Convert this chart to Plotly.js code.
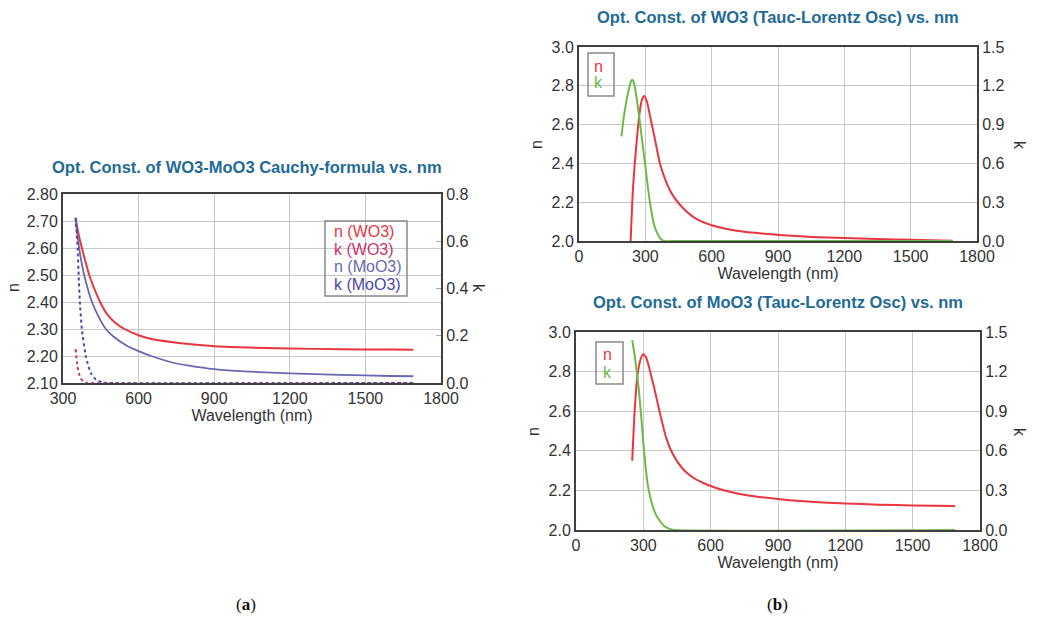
<!DOCTYPE html>
<html>
<head>
<meta charset="utf-8">
<script src="https://cdn.plot.ly/plotly-3.0.1.min.js"></script>
<style>html,body{margin:0;padding:0;background:#fff;}#chart{width:1037px;height:619px;}</style>
</head>
<body>
<div id="chart"></div>
<script>
// ---------- (a) Cauchy formula ----------
const nWO3cWl    = [350,362,375,389,404,424,447,475,505,544,600,650,736,800,900,1000,1200,1400,1600,1690];
const nWO3c      = [2.710,2.650,2.600,2.550,2.500,2.450,2.400,2.355,2.325,2.300,2.277,2.263,2.251,2.244,2.236,2.232,2.228,2.225,2.224,2.223];
const nMoO3cWl   = [350,357,364,373,384,398,415,440,470,500,550,600,650,736,800,900,1000,1200,1400,1600,1690];
const nMoO3c     = [2.705,2.650,2.600,2.550,2.500,2.450,2.400,2.348,2.300,2.272,2.240,2.218,2.200,2.175,2.164,2.151,2.144,2.136,2.130,2.126,2.125];
const kWO3cWl    = [350,355,360,365,370,380,390,400,1690];
const kWO3c      = [0.143,0.090,0.055,0.034,0.020,0.007,0.002,0,0];
const kMoO3cWl   = [350,358,362,367,375,391,411,430,457,480,1690];
const kMoO3c     = [0.700,0.571,0.455,0.342,0.226,0.111,0.041,0.015,0.002,0,0];
const seriesNamesA = ["n (WO3)","k (WO3)","n (MoO3)","k (MoO3)"];

// ---------- (b) top: WO3 Tauc-Lorentz ----------
const tlWO3nWl = [233.5,244,259,274,285,296,308,322,344,366,396,425,470,529,600,721,883,1050,1200,1350,1500,1690];
const tlWO3n   = [2.000,2.267,2.489,2.660,2.730,2.748,2.715,2.640,2.521,2.400,2.300,2.234,2.170,2.115,2.081,2.051,2.033,2.021,2.015,2.010,2.006,2.001];
const tlWO3kWl = [192,203,214,225,233,239.5,246,252,266,281.5,300,319,341,360,371,385,450,1690];
const tlWO3k   = [0.809,0.963,1.079,1.170,1.225,1.246,1.235,1.195,1.040,0.835,0.578,0.321,0.116,0.040,0.013,0,0,0];

// ---------- (b) bottom: MoO3 Tauc-Lorentz ----------
const tlMoO3nWl = [250.5,262,274,287,300,312,325,337,349,372,401,431,476,500,536,570,600,650,729,800,900,1000,1100,1200,1350,1500,1689];
const tlMoO3n   = [2.350,2.613,2.782,2.860,2.888,2.872,2.825,2.770,2.715,2.600,2.469,2.384,2.308,2.283,2.255,2.236,2.222,2.203,2.182,2.169,2.156,2.146,2.139,2.134,2.128,2.124,2.121];
const tlMoO3kWl = [250.5,260,270,280,290,300,310,320,335,350,367,385,400,420,440,1689];
const tlMoO3k   = [1.439,1.340,1.210,1.060,0.870,0.660,0.480,0.340,0.220,0.140,0.085,0.045,0.022,0.007,0,0];
const seriesNamesB = ["n","k"];

const titles = [
  "Opt. Const. of WO3-MoO3 Cauchy-formula vs. nm",
  "Opt. Const. of WO3 (Tauc-Lorentz Osc) vs. nm",
  "Opt. Const. of MoO3 (Tauc-Lorentz Osc) vs. nm"
];

const W = 1037, H = 619;
const px = x => x / W, py = y => 1 - y / H;

const cRed = '#e8363f', cPink = '#cc3170', cPurple = '#6868b2', cBlue = '#4a48a6', cGreen = '#6cba48';
const sp = s => ({shape:'spline', smoothing:s});

const traces = [
  {x: nWO3cWl, y: nWO3c, name: seriesNamesA[0], xaxis:'x', yaxis:'y', mode:'lines', line:Object.assign({color:cRed, width:2}, sp(0.6))},
  {x: kWO3cWl, y: kWO3c, name: seriesNamesA[1], xaxis:'x', yaxis:'y2', mode:'lines', line:Object.assign({color:cPink, width:2, dash:'dot'}, sp(0.5))},
  {x: nMoO3cWl, y: nMoO3c, name: seriesNamesA[2], xaxis:'x', yaxis:'y', mode:'lines', line:Object.assign({color:cPurple, width:1.8}, sp(0.6))},
  {x: kMoO3cWl, y: kMoO3c, name: seriesNamesA[3], xaxis:'x', yaxis:'y2', mode:'lines', line:Object.assign({color:cBlue, width:2, dash:'dot'}, sp(0.5))},
  {x: tlWO3kWl, y: tlWO3k, name: 'k', xaxis:'x2', yaxis:'y4', mode:'lines', line:Object.assign({color:cGreen, width:2}, sp(0.6))},
  {x: tlWO3nWl, y: tlWO3n, name: 'n', xaxis:'x2', yaxis:'y3', mode:'lines', line:Object.assign({color:cRed, width:2}, sp(0.6))},
  {x: tlMoO3kWl, y: tlMoO3k, name: 'k', xaxis:'x3', yaxis:'y6', mode:'lines', line:Object.assign({color:cGreen, width:2}, sp(0.6))},
  {x: tlMoO3nWl, y: tlMoO3n, name: 'n', xaxis:'x3', yaxis:'y5', mode:'lines', line:Object.assign({color:cRed, width:2}, sp(0.6))}
];

const tickFont = {family:'Liberation Sans, Arial, sans-serif', size:16, color:'#333'};
const base = {showline:true, linecolor:'#404040', linewidth:2, mirror:true, gridcolor:'#c8c8c8', gridwidth:1,
              zeroline:false, ticks:'', tickfont:tickFont, fixedrange:true};
const xTitle = {text:'Wavelength (nm)', font:{family:'Liberation Sans, Arial, sans-serif', size:16, color:'#333'}, standoff:2};

const layout = {
  width:W, height:H, margin:{l:0,r:0,t:0,b:0}, paper_bgcolor:'#fff', plot_bgcolor:'#fff', showlegend:false,
  font:{family:'Liberation Sans, Arial, sans-serif'},
  xaxis: Object.assign({}, base, {domain:[px(63),px(441)], range:[300,1800], dtick:300, tick0:0, anchor:'y', title:xTitle}),
  yaxis: Object.assign({}, base, {domain:[py(383),py(194)], range:[2.1,2.8], dtick:0.1, tickformat:'.2f', anchor:'x'}),
  yaxis2: Object.assign({}, base, {overlaying:'y', side:'right', anchor:'x', range:[0,0.8], dtick:0.2, tickformat:'.1f',
              showgrid:false, ticks:'inside', ticklen:5, tickcolor:'#aaa', tickwidth:1}),
  xaxis2: Object.assign({}, base, {domain:[px(579),px(977)], range:[0,1800], dtick:300, anchor:'y3', title:xTitle}),
  yaxis3: Object.assign({}, base, {domain:[py(241),py(47)], range:[2,3], dtick:0.2, tickformat:'.1f', anchor:'x2'}),
  yaxis4: Object.assign({}, base, {overlaying:'y3', side:'right', anchor:'x2', range:[0,1.5], dtick:0.3, tickformat:'.1f', showgrid:false}),
  xaxis3: Object.assign({}, base, {domain:[px(576),px(980)], range:[0,1800], dtick:300, anchor:'y5', title:xTitle}),
  yaxis5: Object.assign({}, base, {domain:[py(530),py(332)], range:[2,3], dtick:0.2, tickformat:'.1f', anchor:'x3'}),
  yaxis6: Object.assign({}, base, {overlaying:'y5', side:'right', anchor:'x3', range:[0,1.5], dtick:0.3, tickformat:'.1f', showgrid:false}),
  shapes: [
    {type:'rect', xref:'paper', yref:'paper', x0:px(325), x1:px(407), y0:py(296), y1:py(221), line:{color:'#8a8a8a', width:1.5}, fillcolor:'rgba(255,255,255,0)'},
    {type:'rect', xref:'paper', yref:'paper', x0:px(588), x1:px(614), y0:py(96), y1:py(53), line:{color:'#8a8a8a', width:1.5}, fillcolor:'rgba(255,255,255,0)'},
    {type:'rect', xref:'paper', yref:'paper', x0:px(596), x1:px(623), y0:py(384), y1:py(342), line:{color:'#8a8a8a', width:1.5}, fillcolor:'rgba(255,255,255,0)'}
  ],
  annotations: []
};

const ann = layout.annotations;
const titleFont = {family:'Liberation Sans, Arial, sans-serif', size:16.5, color:'#1f6b96'};
[[titles[0],247,167],[titles[1],778,17],[titles[2],778,302]].forEach(([t,x,y]) =>
  ann.push({text:'<b>'+t+'</b>', xref:'paper', yref:'paper', x:px(x), y:py(y), showarrow:false, font:titleFont, xanchor:'center', yanchor:'middle'}));

const axLabFont = {family:'Liberation Sans, Arial, sans-serif', size:16, color:'#333'};
[['n',13,288,-90],['k',479,288,90],['n',537,145,-90],['k',1019,145,90],['n',533,432,-90],['k',1020,432,90]].forEach(([t,x,y,a]) =>
  ann.push({text:t, xref:'paper', yref:'paper', x:px(x), y:py(y), showarrow:false, font:axLabFont, textangle:a, xanchor:'center', yanchor:'middle'}));

// legends (text only, coloured)
const legFont = c => ({family:'Liberation Sans, Arial, sans-serif', size:16, color:c});
const colA = [cRed, cPink, cPurple, cBlue];
seriesNamesA.forEach((s,i) => ann.push({text:s, xref:'paper', yref:'paper', x:px(332), y:py(232 + i*17.5), showarrow:false,
  font:legFont(colA[i]), xanchor:'left', yanchor:'middle'}));
const colB = [cRed, cGreen];
seriesNamesB.forEach((s,i) => ann.push({text:s, xref:'paper', yref:'paper', x:px(598), y:py(66 + i*17), showarrow:false,
  font:legFont(colB[i]), xanchor:'center', yanchor:'middle'}));
seriesNamesB.forEach((s,i) => ann.push({text:s, xref:'paper', yref:'paper', x:px(607), y:py(354 + i*18), showarrow:false,
  font:legFont(colB[i]), xanchor:'center', yanchor:'middle'}));

// panel labels
[['(<b>a</b>)',246,604],['(<b>b</b>)',777,604]].forEach(([t,x,y]) =>
  ann.push({text:t, xref:'paper', yref:'paper', x:px(x), y:py(y), showarrow:false,
    font:{family:'Liberation Serif, Times New Roman, serif', size:17, color:'#111'}, xanchor:'center', yanchor:'middle'}));

Plotly.newPlot('chart', traces, layout, {displayModeBar:false, staticPlot:true});
</script>
</body>
</html>
